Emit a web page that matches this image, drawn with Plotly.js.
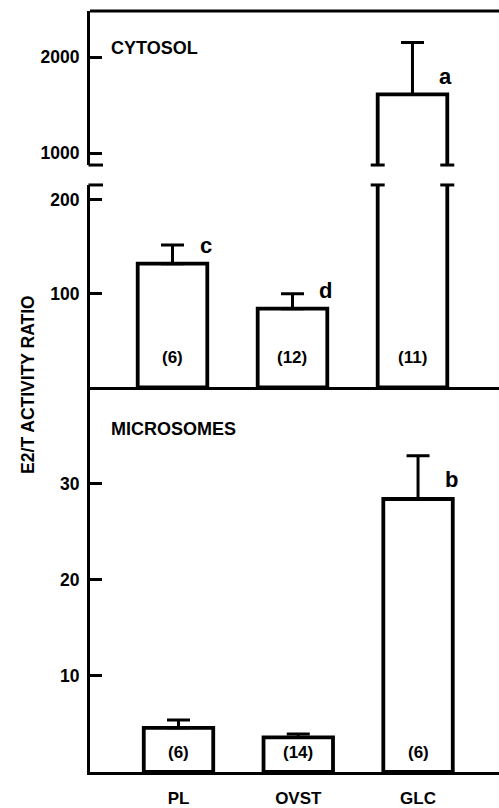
<!DOCTYPE html>
<html>
<head>
<meta charset="utf-8">
<script src="https://cdn.plot.ly/plotly-3.0.1.min.js"></script>
<style>html,body{margin:0;padding:0;background:#fff;}#chart{width:499px;height:808px;}</style>
</head>
<body>
<div id="chart"></div>
<script>
// ---- data ----
const categories = ['PL', 'OVST', 'GLC'];
const cytosolMean = [132, 84, 1610];
const cytosolSE = [20, 16, 542];
const cytosolN = ['(6)', '(12)', '(11)'];
const cytosolLetters = ['c', 'd', 'a'];
const microMean = [4.6, 3.6, 28.4];
const microSE = [0.8, 0.35, 4.5];
const microN = ['(6)', '(14)', '(6)'];
const microLetters = ['', '', 'b'];
const yTicksMicro = [10, 20, 30];
const yTicksCytLow = [100, 200];
const yTicksCytHigh = [1000, 2000];

// ---- layout constants ----
const FONT = 'Liberation Sans, Arial, Helvetica, sans-serif';
const BLACK = '#000';
const barWidth = 0.58;
const domMicro = [0, 0.5053];
const domCytLow = [0.5053, 0.7714];
const domCytHigh = [0.7976, 1];

function zeros(n) { return new Array(n).fill(0); }

function barTrace(xa, ya, y, se) {
  return {
    type: 'bar', x: categories, y: y, xaxis: xa, yaxis: ya,
    width: barWidth,
    marker: { color: '#fff', line: { color: BLACK, width: 3.8 } },
    error_y: { type: 'data', array: se, arrayminus: zeros(se.length), symmetric: false,
               visible: true, color: BLACK, thickness: 3, width: 11.5 },
    hoverinfo: 'skip', showlegend: false
  };
}

const traces = [
  barTrace('x', 'y', microMean, microSE),
  barTrace('x2', 'y2', cytosolMean, cytosolSE),
  barTrace('x2', 'y3', cytosolMean, cytosolSE)
];

const tickFont = { family: FONT, size: 17.5, color: BLACK, weight: 'bold' };

function yAxis(domain, range, tickvals, anchor) {
  return {
    domain: domain, range: range, anchor: anchor,
    tickmode: 'array', tickvals: tickvals,
    ticks: 'inside', ticklen: 12, tickwidth: 3, tickcolor: BLACK,
    showline: true, linewidth: 3, linecolor: BLACK,
    showgrid: false, zeroline: false, tickfont: tickFont,
    ticklabelstandoff: 4, fixedrange: true
  };
}

const annotations = [];
const labelFont = { family: FONT, size: 18, color: BLACK, weight: 'bold' };
const nFont = { family: FONT, size: 17, color: BLACK, weight: 'bold' };
const letterFont = { family: FONT, size: 22, color: BLACK, weight: 'bold' };

categories.forEach((c, i) => {
  annotations.push({ xref: 'x2', yref: 'y2', x: c, y: 31.5, text: cytosolN[i], showarrow: false,
    font: nFont, xanchor: 'center', yanchor: 'middle' });
  annotations.push({ xref: 'x', yref: 'y', x: c, y: 2.0, text: microN[i], showarrow: false,
    font: nFont, xanchor: 'center', yanchor: 'middle' });
  if (cytosolLetters[i]) {
    const ya = cytosolMean[i] > 216 ? 'y3' : 'y2';
    annotations.push({ xref: 'x2', yref: ya, x: c, y: cytosolMean[i], text: cytosolLetters[i],
      showarrow: false, font: letterFont, xanchor: 'center', yanchor: 'middle', xshift: 33, yshift: 18 });
  }
  if (microLetters[i]) {
    annotations.push({ xref: 'x', yref: 'y', x: c, y: microMean[i], text: microLetters[i],
      showarrow: false, font: letterFont, xanchor: 'center', yanchor: 'middle', xshift: 33, yshift: 19 });
  }
});

annotations.push({ xref: 'paper', yref: 'paper', x: 0.0465, y: 0.9514, text: 'CYTOSOL',
  showarrow: false, font: labelFont, xanchor: 'left', yanchor: 'middle' });
annotations.push({ xref: 'paper', yref: 'paper', x: 0.0465, y: 0.4507, text: 'MICROSOMES',
  showarrow: false, font: labelFont, xanchor: 'left', yanchor: 'middle' });
annotations.push({ xref: 'paper', yref: 'paper', x: -0.1516, y: 0.51, text: 'E2/T ACTIVITY RATIO',
  showarrow: false, font: { family: FONT, size: 17.5, color: BLACK, weight: 'bold' },
  textangle: -90, xanchor: 'center', yanchor: 'middle' });

const shapes = [];
// top border
shapes.push({ type: 'line', xref: 'paper', yref: 'paper', x0: 0, x1: 1, y0: 1, y1: 1,
  line: { color: BLACK, width: 3 } });
// axis break ticks
[domCytHigh[0], domCytLow[1]].forEach(yy => {
  shapes.push({ type: 'line', xref: 'paper', yref: 'paper', xsizemode: 'pixel', xanchor: 0,
    x0: -1.5, x1: 13, y0: yy, y1: yy, line: { color: BLACK, width: 3 } });
});
// bar break caps for bars running through the break
categories.forEach((c, i) => {
  if (cytosolMean[i] > 216) {
    [i - barWidth / 2, i + barWidth / 2].forEach(xe => {
      [domCytHigh[0], domCytLow[1]].forEach(yy => {
        shapes.push({ type: 'line', xref: 'x2', yref: 'paper', xsizemode: 'pixel', xanchor: xe,
          x0: -7, x1: 7, y0: yy, y1: yy, line: { color: BLACK, width: 3 } });
      });
    });
  }
});

const layout = {
  width: 499, height: 808,
  margin: { l: 90, r: 0, t: 11, b: 36, pad: 0 },
  paper_bgcolor: '#fff', plot_bgcolor: 'rgba(0,0,0,0)',
  font: { family: FONT, color: BLACK },
  showlegend: false,
  xaxis: {
    domain: [0, 1], anchor: 'y', type: 'category', range: [-0.739, 2.676],
    showline: true, linewidth: 3, linecolor: BLACK, ticks: '', showgrid: false, zeroline: false,
    tickfont: { family: FONT, size: 17, color: BLACK, weight: 'bold' },
    ticklabelstandoff: 9, fixedrange: true
  },
  xaxis2: {
    domain: [0, 1], anchor: 'y2', type: 'category', range: [-0.6875, 2.721],
    showline: true, linewidth: 3, linecolor: BLACK, ticks: '', showticklabels: false,
    showgrid: false, zeroline: false, fixedrange: true
  },
  yaxis: yAxis(domMicro, [0, 40], yTicksMicro, 'x'),
  yaxis2: yAxis(domCytLow, [0, 216], yTicksCytLow, 'x2'),
  yaxis3: yAxis(domCytHigh, [875, 2479], yTicksCytHigh, 'x2'),
  annotations: annotations,
  shapes: shapes
};

Plotly.newPlot('chart', traces, layout, { staticPlot: true, displayModeBar: false });
</script>
</body>
</html>
